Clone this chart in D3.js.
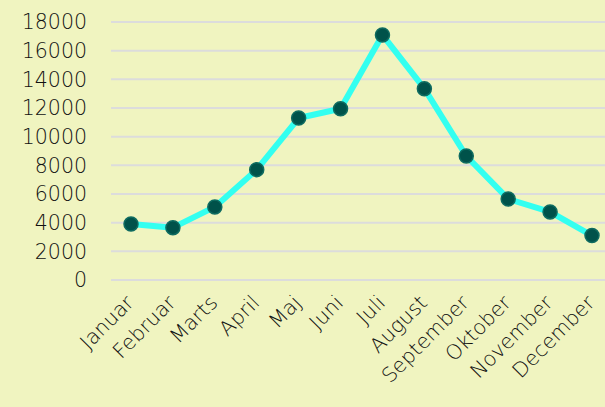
<!DOCTYPE html>
<html lang="da">
<head>
<meta charset="UTF-8">
<script src="https://cdnjs.cloudflare.com/ajax/libs/d3/7.8.5/d3.min.js"></script>
<style>
    body { margin: 0; padding: 0; background: #f0f4c0; }
    svg { display: block; }
    .grid line { stroke: #dcdcdc; stroke-width: 2px; }
    .lbl { font-family: "DejaVu Sans", sans-serif; font-weight: 200; font-size: 20.5px; fill: #111; }
</style>
</head>
<body>
<div id="chart"></div>
<script>
    const months = ["Januar", "Februar", "Marts", "April", "Maj", "Juni", "Juli",
        "August", "September", "Oktober", "November", "December"];
    const values = [3900, 3650, 5100, 7700, 11300, 11950, 17100, 13350, 8650, 5650, 4750, 3100];
    const yTicks = [0, 2000, 4000, 6000, 8000, 10000, 12000, 14000, 16000, 18000];

    const width = 605, height = 407;

    const svg = d3.select("#chart").append("svg")
        .attr("width", width)
        .attr("height", height);

    svg.append("rect").attr("width", width).attr("height", height).attr("fill", "#f0f4c0");

    const x = d3.scalePoint().domain(months).range([131, 592]);
    const y = d3.scaleLinear().domain([0, 18000]).range([280, 22]);

    // grid lines
    svg.append("g").attr("class", "grid")
        .selectAll("line")
        .data(yTicks)
        .enter().append("line")
        .attr("x1", 111).attr("x2", width)
        .attr("y1", d => y(d)).attr("y2", d => y(d));

    // y labels
    svg.append("g")
        .selectAll("text")
        .data(yTicks)
        .enter().append("text")
        .attr("class", "lbl")
        .attr("x", 87)
        .attr("y", d => y(d))
        .attr("dy", "0.36em")
        .attr("text-anchor", "end")
        .text(d => d);

    // x labels, rotated
    svg.append("g")
        .selectAll("text")
        .data(months)
        .enter().append("text")
        .attr("class", "lbl")
        .attr("text-anchor", "end")
        .attr("transform", d => `translate(${x(d) + 4},${304}) rotate(-45)`)
        .text(d => d);

    const line = d3.line()
        .x((d, i) => x(months[i]))
        .y(d => y(d));

    svg.append("path")
        .datum(values)
        .attr("fill", "none")
        .attr("stroke", "#33fff0")
        .attr("stroke-width", 6)
        .attr("stroke-linejoin", "round")
        .attr("d", line);

    svg.append("g")
        .selectAll("circle")
        .data(values)
        .enter().append("circle")
        .attr("cx", (d, i) => x(months[i]))
        .attr("cy", d => y(d))
        .attr("r", 7)
        .attr("fill", "#00524a")
        .attr("stroke", "#0e6b60")
        .attr("stroke-width", 1.5);
</script>
</body>
</html>
